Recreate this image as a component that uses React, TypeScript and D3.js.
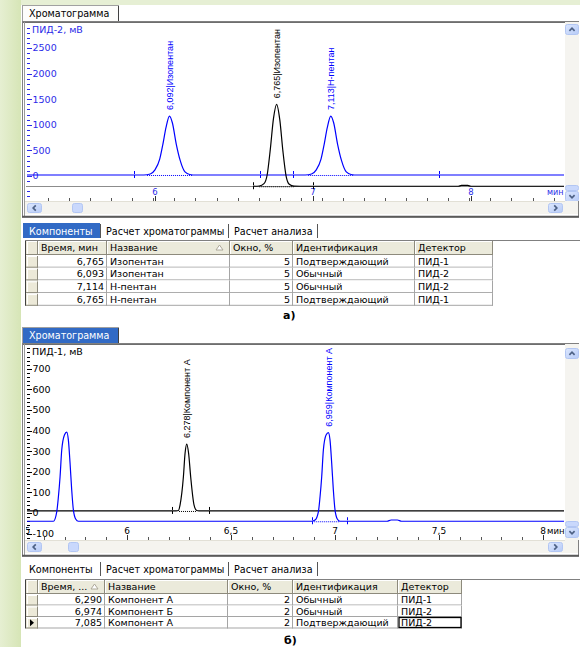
import React from "react";
import { scaleLinear, line, curveMonotoneX, range } from "d3";

type Pt = [number, number];

const UI = "'DejaVu Sans', Verdana, sans-serif";
const NARROW = "'Liberation Sans', Arial, sans-serif";
const BLUE = "#0000ff";
const AXIS_BLUE = "#2b2be8";
const SEL = "#316ac5";

// ---------- а) ПИД-2 (blue) / ПИД-1 (black), мВ vs мин ----------
const pid2A: Pt[] = [
  [5.19, 20], [5.93, 20], [5.97, 40], [6.0, 120], [6.03, 330], [6.05, 620], [6.07, 950],
  [6.092, 1170], [6.11, 1040], [6.135, 620], [6.16, 300], [6.19, 80], [6.22, 30], [6.26, 20],
  [6.951, 20], [6.991, 40], [7.021, 120], [7.051, 330], [7.071, 620], [7.091, 950],
  [7.113, 1170], [7.131, 1040], [7.156, 620], [7.181, 300], [7.211, 80], [7.241, 30], [7.281, 20],
  [8.589, 20],
];
const pid1A: Pt[] = [
  [6.62, -200], [6.66, -195], [6.69, -150], [6.71, 20], [6.73, 520], [6.75, 1120], [6.77, 1400],
  [6.79, 1100], [6.81, 480], [6.83, 0], [6.85, -160], [6.88, -198], [6.92, -200],
  [7.92, -200], [7.94, -184], [7.98, -184], [8.0, -200], [8.589, -200],
];
const peaksPid2A = [
  { t: 6.092, v: 1170, label: "6,092|Изопентан" },
  { t: 7.113, v: 1170, label: "7,113|Н-пентан" },
];
const peaksPid1A = [{ t: 6.77, v: 1400, label: "6,765|Изопентан" }];
const winPid2A = [5.867, 6.665, 6.873, 7.8];
const winPid1A = [6.62, 7.0];
const integPid2A: Pt[] = [[5.95, 6.24], [6.97, 7.26]];
const integPid1A: Pt[] = [[6.66, 6.88]];
const yMajorA = [0, 500, 1000, 1500, 2000, 2500];
const xMajorA = [6, 7, 8];
const xLabelsA = ["6", "7", "8"];

// ---------- б) ПИД-1 (black) / ПИД-2 (blue) ----------
const pid2B: Pt[] = [
  [5.519, -40], [5.646, -40], [5.662, 6], [5.67, 79], [5.678, 176], [5.686, 306], [5.699, 379],
  [5.71, 393], [5.718, 354], [5.726, 243], [5.734, 112], [5.742, 15], [5.753, -29], [5.766, -40],
  [6.888, -40], [6.904, -34], [6.92, 6], [6.928, 79], [6.936, 176], [6.944, 306], [6.957, 379],
  [6.968, 390], [6.976, 354], [6.984, 243], [6.992, 112], [7.0, 15], [7.011, -29], [7.024, -40],
  [7.25, -40], [7.27, -34], [7.3, -34], [7.32, -40], [8.101, -40],
];
const pid1B: Pt[] = [
  [5.519, 10], [6.236, 10], [6.247, 12], [6.255, 40], [6.271, 176], [6.279, 290], [6.287, 335],
  [6.296, 290], [6.306, 176], [6.322, 40], [6.335, 12], [6.346, 10], [8.101, 10],
];
const peaksPid2B = [{ t: 6.968, v: 390, label: "6,959|Компонент А" }];
const peaksPid1B = [{ t: 6.287, v: 335, label: "6,278|Компонент А" }];
const winPid2B = [6.889, 7.058];
const winPid1B = [6.216, 6.394];
const integPid2B: Pt[] = [[6.9, 7.02]];
const integPid1B: Pt[] = [[6.25, 6.335]];
const yMajorB = [-100, 0, 100, 200, 300, 400, 500, 600, 700];
const xMajorB = [5.5, 6, 6.5, 7, 7.5, 8];
const xLabelsB = ["5,5", "6", "6,5", "7", "7,5", "8"];

// ---------- tables ----------
const headA = ["Время, мин", "Название", "Окно, %", "Идентификация", "Детектор"];
const timeA = ["6,765", "6,093", "7,114", "6,765"];
const nameA = ["Изопентан", "Изопентан", "Н-пентан", "Н-пентан"];
const winA = ["5", "5", "5", "5"];
const identA = ["Подтверждающий", "Обычный", "Обычный", "Подтверждающий"];
const detA = ["ПИД-1", "ПИД-2", "ПИД-2", "ПИД-1"];

const headB = ["Время, ...", "Название", "Окно, %", "Идентификация", "Детектор"];
const timeB = ["6,290", "6,974", "7,085"];
const nameB = ["Компонент А", "Компонент Б", "Компонент А"];
const winB = ["2", "2", "2"];
const identB = ["Обычный", "Обычный", "Подтверждающий"];
const detB = ["ПИД-1", "ПИД-2", "ПИД-2"];

const tabsBottom = ["Компоненты", "Расчет хроматограммы", "Расчет анализа"];

function ScrollBtn({ x, y, w, h, dir }: { x: number; y: number; w: number; h: number; dir: string }) {
  const cx = x + w / 2, cy = y + h / 2, s = 2.6;
  const d =
    dir === "up" ? `M${cx - s},${cy + 1.3}L${cx},${cy - 1.3}L${cx + s},${cy + 1.3}` :
    dir === "down" ? `M${cx - s},${cy - 1.3}L${cx},${cy + 1.3}L${cx + s},${cy - 1.3}` :
    dir === "left" ? `M${cx + 1.3},${cy - s}L${cx - 1.3},${cy}L${cx + 1.3},${cy + s}` :
    `M${cx - 1.3},${cy - s}L${cx + 1.3},${cy}L${cx - 1.3},${cy + s}`;
  return (
    <g>
      <rect x={x + 0.5} y={y + 0.5} width={w - 1} height={h - 1} rx={2} fill="url(#xpbtn)" stroke="#b2c6f3" />
      <path d={d} fill="none" stroke="#4d6185" strokeWidth={1.7} />
    </g>
  );
}

function Thumb({ x, y, w, h }: { x: number; y: number; w: number; h: number }) {
  return <rect x={x + 0.5} y={y + 0.5} width={w - 1} height={h - 1} rx={2} fill="#c9d8fc" stroke="#b2c6f3" />;
}

type TraceDef = {
  pts: Pt[]; color: string; base: number;
  peaks: { t: number; v: number; label: string }[];
  wins: number[]; integ: Pt[];
};

function Chromatogram(p: any) {
  const { id, top, bottom, tabActive, x, y, yTitle, yMajor, yMinor, axisColor, traces,
    rulerMinor, rulerMajor, labelVals, labelText, labelSize, labelBase, hThumbX, vBtns, axisLine } = p;
  const [py1, py0] = y.range();
  const px0 = 26, px1 = 564;
  const gen = line<Pt>().x(d => x(d[0])).y(d => y(d[1])).curve(curveMonotoneX);
  const tabY = top - 16;
  return (
    <g>
      <defs>
        <clipPath id={id}><rect x={px0} y={py0} width={px1 - px0} height={py1 - py0} /></clipPath>
      </defs>
      {/* tab */}
      <rect x={22.5} y={tabY + 0.5} width={96} height={16} fill={tabActive ? SEL : "#fdfdfb"} stroke="#a0a0a0" />
      <line x1={118.5} y1={tabY + 1} x2={118.5} y2={top} stroke="#404040" />
      <text x={29} y={tabY + 12} fontFamily={UI} fontSize={9.6} fill={tabActive ? "#fff" : "#000"}>Хроматограмма</text>
      {/* frame */}
      <rect x={22.5} y={top + 0.5} width={556} height={bottom - top} fill="#ffffff" stroke="#808080" />
      <line x1={23} y1={top + 1.5} x2={578} y2={top + 1.5} stroke="#6e6e6e" />
      <line x1={24.5} y1={top + 1} x2={24.5} y2={bottom} stroke="#9a9a9a" />
      {/* vertical scrollbar */}
      <rect x={565} y={py0 - 2} width={14} height={py1 - py0 + 2} fill="#f5f4f0" />
      <ScrollBtn x={565} y={vBtns[0]} w={14} h={11} dir="up" />
      <Thumb x={565} y={vBtns[1]} w={14} h={vBtns[2] - vBtns[1]} />
      <ScrollBtn x={565} y={vBtns[2]} w={14} h={11} dir="down" />
      {/* horizontal scrollbar */}
      <rect x={25} y={py1} width={553} height={13} fill="#f5f4ef" />
      <line x1={25} y1={py1 + 0.5} x2={565} y2={py1 + 0.5} stroke="#e2e0d6" />
      <ScrollBtn x={27} y={py1 + 2} w={15} h={10} dir="left" />
      <Thumb x={hThumbX} y={py1 + 2} w={11} h={10} />
      <ScrollBtn x={548} y={py1 + 2} w={15} h={10} dir="right" />
      <line x1={22} y1={bottom - 0.5} x2={579} y2={bottom - 0.5} stroke="#5a5a5a" strokeWidth={1.5} />

      {/* y axis */}
      {yMinor.map((v: number) => (
        <line key={"m" + v} x1={27} x2={30} y1={Math.round(y(v)) + 0.5} y2={Math.round(y(v)) + 0.5} stroke={axisColor} />
      ))}
      {yMajor.map((v: number) => (
        <g key={"M" + v}>
          <line x1={27} x2={32} y1={Math.round(y(v)) + 0.5} y2={Math.round(y(v)) + 0.5} stroke={axisColor} />
          <text x={32.5} y={y(v)} dy="0.36em" fontFamily={UI} fontSize={9.5} fill={axisColor}>{v}</text>
        </g>
      ))}
      <text x={32} y={py0 + 6} dy="0.36em" fontFamily={UI} fontSize={9.5} fill={axisColor}>{yTitle}</text>

      <g clipPath={`url(#${id})`}>
        {axisLine !== undefined && (
          <line x1={px0} x2={px1} y1={Math.round(y(axisLine)) + 0.5} y2={Math.round(y(axisLine)) + 0.5} stroke="#8c8c8c" />
        )}
        {/* ruler */}
        {rulerMinor.map((t: number, i: number) => (
          <line key={"r" + i} x1={Math.round(x(t)) + 0.5} x2={Math.round(x(t)) + 0.5} y1={py1 - 3} y2={py1} stroke="#555" />
        ))}
        {rulerMajor.map((t: number, i: number) => (
          <line key={"R" + i} x1={Math.round(x(t)) + 0.5} x2={Math.round(x(t)) + 0.5} y1={py1 - 5} y2={py1} stroke="#333" />
        ))}
        {labelVals.map((t: number, i: number) => (
          <text key={"l" + i} x={x(t)} y={labelBase} textAnchor="middle" fontFamily={UI} fontSize={labelSize}
            fill={axisColor}>{labelText[i]}</text>
        ))}
        {traces.map((tr: TraceDef, k: number) => (
          <g key={"t" + k}>
            {tr.integ.map((s: Pt, i: number) => (
              <line key={"i" + i} x1={x(s[0])} x2={x(s[1])} y1={y(tr.base) + 0.5} y2={y(tr.base) + 0.5}
                stroke={tr.color} strokeDasharray="1,1" />
            ))}
            <path d={gen(tr.pts) || ""} fill="none" stroke={tr.color} strokeWidth={1.2} />
            {tr.wins.map((t: number, i: number) => (
              <line key={"w" + i} x1={Math.round(x(t)) + 0.5} x2={Math.round(x(t)) + 0.5}
                y1={y(tr.base) - 4} y2={y(tr.base) + 4} stroke={tr.color} strokeDasharray="3,1" />
            ))}
            {tr.peaks.map((pk, i: number) => (
              <text key={"p" + i} transform={`translate(${x(pk.t)},${y(pk.v) - 6}) rotate(-90)`} dy="0.36em"
                fontFamily={NARROW} fontSize={9} fill={tr.color}>{pk.label}</text>
            ))}
          </g>
        ))}
      </g>
      <text x={547} y={labelBase} fontFamily={UI} fontSize={labelSize - 0.5} fill={axisColor}>мин</text>
    </g>
  );
}

function TabsRow({ y, active }: { y: number; active: boolean }) {
  const xs = [23, 101, 229];
  const ws = [77, 127, 88];
  return (
    <g>
      {tabsBottom.map((t, i) => (
        <g key={t}>
          {i === 0 && active && <rect x={xs[i]} y={y} width={ws[i]} height={15} fill={SEL} />}
          <line x1={xs[i] + ws[i] + 0.5} x2={xs[i] + ws[i] + 0.5} y1={y + 1} y2={y + 15} stroke="#555" />
          <text x={xs[i] + (i === 0 ? 6 : 5)} y={y + 11.5} fontFamily={UI} fontSize={9.6}
            fill={i === 0 && active ? "#fff" : "#000"}>{t}</text>
        </g>
      ))}
    </g>
  );
}

function Grid(p: any) {
  const { top, headH, rowH, edges, head, cols, sortCol, marker, focus } = p;
  const nRows = cols[0].length;
  const bottom = top + headH + nRows * rowH;
  const right = [true, false, true, false, false];
  return (
    <g fontFamily={UI} fontSize={9.5}>
      <line x1={25.5} x2={25.5} y1={top} y2={bottom} stroke="#404040" />
      <line x1={25} x2={580} y1={top + 0.5} y2={top + 0.5} stroke="#808080" />
      {/* indicator column */}
      {range(nRows + 1).map(r => {
        const y0 = r === 0 ? top : top + headH + (r - 1) * rowH;
        const h = r === 0 ? headH : rowH;
        return (
          <g key={"ind" + r}>
            <rect x={26} y={y0 + 1} width={edges[1] - 26} height={h - 1} fill="#ece9d8" />
            <line x1={27} x2={edges[1] - 1} y1={y0 + 1.5} y2={y0 + 1.5} stroke="#fff" />
            <line x1={27.5} x2={27.5} y1={y0 + 1} y2={y0 + h - 1} stroke="#fff" />
            <line x1={edges[1] - 0.5} x2={edges[1] - 0.5} y1={y0 + 1} y2={y0 + h} stroke="#8d8a7c" />
            <line x1={26} x2={edges[1]} y1={y0 + h - 0.5} y2={y0 + h - 0.5} stroke="#8d8a7c" />
          </g>
        );
      })}
      {marker !== undefined && (
        <path d={`M30,${top + headH + marker * rowH + rowH / 2 - 3.5}l4,3.5l-4,3.5z`} fill="#000" />
      )}
      {head.map((h: string, c: number) => {
        const x0 = edges[c + 1], x1 = edges[c + 2];
        return (
          <g key={h}>
            <rect x={x0} y={top + 1} width={x1 - x0} height={headH - 1} fill="#ebeadb" />
            <line x1={x0 + 1} x2={x1 - 1} y1={top + 1.5} y2={top + 1.5} stroke="#fff" />
            <line x1={x0 + 0.5} x2={x0 + 0.5} y1={top + 1} y2={top + headH - 1} stroke="#fff" />
            <line x1={x1 - 0.5} x2={x1 - 0.5} y1={top + 1} y2={top + headH} stroke="#8d8a7c" />
            <line x1={x0} x2={x1} y1={top + headH - 0.5} y2={top + headH - 0.5} stroke="#8d8a7c" />
            <text x={x0 + 3} y={top + headH / 2} dy="0.36em">{h}</text>
            {c === sortCol && (
              <path d={`M${x1 - 14},${top + headH / 2 + 2.5}l3.5,-5l3.5,5z`} fill="#fff" stroke="#aca899" />
            )}
            {cols[c].map((v: string, r: number) => {
              const y0 = top + headH + r * rowH;
              return (
                <g key={r}>
                  <rect x={x0} y={y0} width={x1 - x0} height={rowH} fill="#fff" />
                  <line x1={x1 - 0.5} x2={x1 - 0.5} y1={y0} y2={y0 + rowH} stroke="#a5a5a5" />
                  <line x1={x0} x2={x1} y1={y0 + rowH - 0.5} y2={y0 + rowH - 0.5} stroke="#a5a5a5" />
                  <text x={right[c] ? x1 - 3 : x0 + 3} y={y0 + rowH / 2} dy="0.36em"
                    textAnchor={right[c] ? "end" : "start"}>{v}</text>
                </g>
              );
            })}
          </g>
        );
      })}
      {focus && (
        <rect x={edges[focus[1] + 1] + 1} y={top + headH + focus[0] * rowH + 0.5}
          width={edges[focus[1] + 2] - edges[focus[1] + 1] - 2} height={rowH - 1.5}
          fill="none" stroke="#000" strokeWidth={1.3} />
      )}
    </g>
  );
}

export default function App() {
  const xA = scaleLinear().domain([5.19, 8.589]).range([27, 564]);
  const yA = scaleLinear().domain([-488, 2969]).range([201, 24]);
  const xB = scaleLinear().domain([5.519, 8.101]).range([27, 564]);
  const yB = scaleLinear().domain([-131, 811]).range([540, 346]);

  const tracesA: TraceDef[] = [
    { pts: pid2A, color: BLUE, base: 20, peaks: peaksPid2A, wins: winPid2A, integ: integPid2A },
    { pts: pid1A, color: "#000", base: -200, peaks: peaksPid1A, wins: winPid1A, integ: integPid1A },
  ];
  const tracesB: TraceDef[] = [
    { pts: pid1B, color: "#000", base: 10, peaks: peaksPid1B, wins: winPid1B, integ: integPid1B },
    { pts: pid2B, color: BLUE, base: -40, peaks: peaksPid2B, wins: winPid2B, integ: integPid2B },
  ];

  return (
    <div style={{ position: "absolute", left: 0, top: 0 }}>
      <svg width={580} height={647} viewBox="0 0 580 647" style={{ display: "block" }}>
        <defs>
          <linearGradient id="xpbtn" x1="0" y1="0" x2="1" y2="1">
            <stop offset="0" stopColor="#dce7fe" />
            <stop offset="1" stopColor="#b7cbf7" />
          </linearGradient>
          <linearGradient id="page" x1="0" y1="0" x2="1" y2="0">
            <stop offset="0" stopColor="#e6efd2" />
            <stop offset="1" stopColor="#d6e5b6" />
          </linearGradient>
        </defs>
        <rect width={580} height={647} fill="#ffffff" />
        <rect x={0} y={0} width={580} height={5} fill="#e6efd4" />
        <rect x={0} y={0} width={21} height={647} fill="url(#page)" />

        <Chromatogram id="clipA" top={21} bottom={217} tabActive={false} x={xA} y={yA}
          yTitle="ПИД-2, мВ" yMajor={yMajorA} yMinor={range(-400, 2901, 100)} axisColor={AXIS_BLUE}
          traces={tracesA} rulerMinor={range(5.323, 8.589, 2 / 15)} rulerMajor={xMajorA}
          labelVals={xMajorA} labelText={xLabelsA} labelSize={8.5} labelBase={195}
          hThumbX={72} vBtns={[24, 185, 191]} axisLine={-200} />

        <TabsRow y={223} active={true} />
        <Grid top={240} headH={15} rowH={12.7} edges={[25, 38, 107, 230, 293, 415, 493]} head={headA}
          cols={[timeA, nameA, winA, identA, detA]} sortCol={1} />
        <text x={283} y={319} fontFamily={UI} fontSize={11} fontWeight="bold">а)</text>

        <Chromatogram id="clipB" top={343} bottom={556} tabActive={true} x={xB} y={yB}
          yTitle="ПИД-1, мВ" yMajor={yMajorB} yMinor={range(-120, 801, 20)} axisColor="#000"
          traces={tracesB} rulerMinor={range(5.6, 8.1, 0.1)} rulerMajor={xMajorB}
          labelVals={xMajorB} labelText={xLabelsB} labelSize={9} labelBase={534}
          hThumbX={68} vBtns={[348, 521, 527]} />

        <TabsRow y={561} active={false} />
        <Grid top={579} headH={15} rowH={11.5} edges={[25, 38, 105, 228, 293, 398, 462]} head={headB}
          cols={[timeB, nameB, winB, identB, detB]} sortCol={0} marker={2} focus={[2, 4]} />
        <text x={284} y={644} fontFamily={UI} fontSize={11} fontWeight="bold">б)</text>
      </svg>
    </div>
  );
}
